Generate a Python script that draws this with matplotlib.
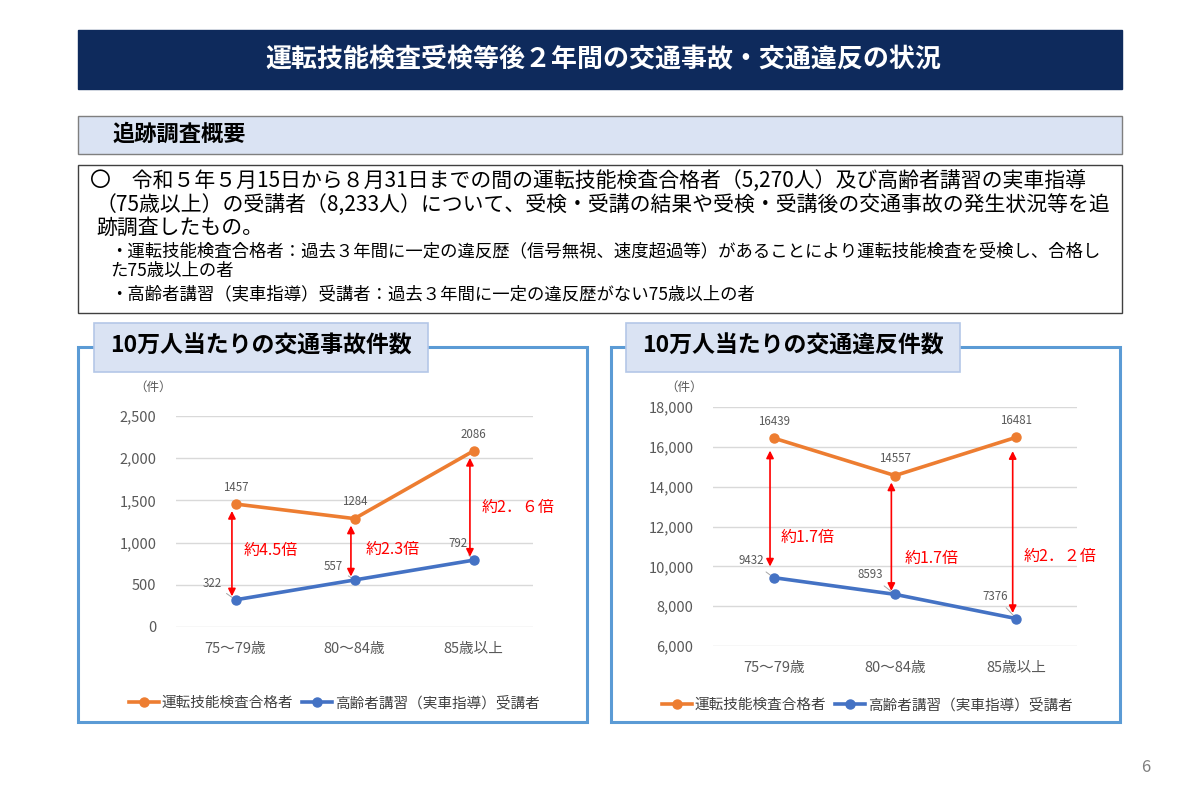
import matplotlib.pyplot as plt
from matplotlib.patches import Rectangle

plt.rcParams['font.family'] = ['Noto Sans CJK JP', 'DejaVu Sans']

# データ
age_groups = ["75～79歳", "80～84歳", "85歳以上"]
series_names = ["運転技能検査合格者", "高齢者講習（実車指導）受講者"]

accident_test = [1457, 1284, 2086]      # 運転技能検査合格者
accident_course = [322, 557, 792]       # 高齢者講習受講者
accident_ratio = ["約4.5倍", "約2.3倍", "約2．６倍"]

violation_test = [16439, 14557, 16481]
violation_course = [9432, 8593, 7376]
violation_ratio = ["約1.7倍", "約1.7倍", "約2．２倍"]

ORANGE = '#ED7D31'
BLUE = '#4472C4'
RED = '#FF0000'
GRAY = '#595959'

W, H = 1200, 800
fig = plt.figure(figsize=(12, 8), dpi=100)

# 背景用（ピクセル座標）
bg = fig.add_axes([0, 0, 1, 1])
bg.set_xlim(0, W)
bg.set_ylim(H, 0)
bg.axis('off')


def box(x0, y0, x1, y1, fc, ec, lw=1.0, z=1):
    bg.add_patch(Rectangle((x0, y0), x1 - x0, y1 - y0, facecolor=fc,
                           edgecolor=ec, linewidth=lw, zorder=z))


# タイトル
box(78, 30, 1122, 89, '#0E2A5C', '#0E2A5C')
bg.text(603, 60, "運転技能検査受検等後２年間の交通事故・交通違反の状況",
        color='white', fontsize=18.7, fontweight='bold', ha='center', va='center')

# 追跡調査概要
box(78, 116, 1122, 154, '#DAE3F3', '#7F7F7F')
bg.text(113, 134, "追跡調査概要", fontsize=16, fontweight='bold', va='center')

# 説明文
box(78, 165, 1122, 313, 'white', '#404040')
main_lines = [
    (90, 181, "〇　令和５年５月15日から８月31日までの間の運転技能検査合格者（5,270人）及び高齢者講習の実車指導"),
    (96, 205, "（75歳以上）の受講者（8,233人）について、受検・受講の結果や受検・受講後の交通事故の発生状況等を追"),
    (96, 228, "跡調査したもの。"),
]
for x, y, t in main_lines:
    bg.text(x, y, t, fontsize=15, va='center')
sub_lines = [
    (110, 251, "・運転技能検査合格者：過去３年間に一定の違反歴（信号無視、速度超過等）があることにより運転技能検査を受検し、合格し"),
    (110, 271, "た75歳以上の者"),
    (110, 294, "・高齢者講習（実車指導）受講者：過去３年間に一定の違反歴がない75歳以上の者"),
]
for x, y, t in sub_lines:
    bg.text(x, y, t, fontsize=12.5, va='center')

# パネル枠
panels = [(78, 587, 94, 428, "10万人当たりの交通事故件数"),
          (611, 1120, 626, 960, "10万人当たりの交通違反件数")]
for x0, x1, tx0, tx1, title in panels:
    box(x0, 347, x1, 722, 'white', '#5B9BD5', lw=2.2)
    box(tx0, 323, tx1, 372, '#DAE3F3', '#B4C7E7', lw=1.2, z=2)
    bg.text((tx0 + tx1) / 2, 346, title, fontsize=16.5, fontweight='bold',
            ha='center', va='center', zorder=3)

bg.text(1146, 768, "6", fontsize=12, color='#7F7F7F', ha='center', va='center')


def make_chart(rect, top, bottom, ylim, step, ratio_labels, ratio_pos,
               top_off, bottom_off, shrinks, unit_xy, legend_xy):
    x0, y0, x1, y1 = rect
    ax = fig.add_axes([x0 / W, 1 - y1 / H, (x1 - x0) / W, (y1 - y0) / H])
    ax.set_facecolor('none')
    xs = list(range(len(age_groups)))
    l1, = ax.plot(xs, top, color=ORANGE, lw=2.6, marker='o', ms=6.5, zorder=4,
                  label=series_names[0])
    l2, = ax.plot(xs, bottom, color=BLUE, lw=2.6, marker='o', ms=6.5, zorder=4,
                  label=series_names[1])
    ax.set_xlim(-0.5, len(age_groups) - 0.5)
    ax.set_ylim(*ylim)
    ax.set_yticks(range(ylim[0], ylim[1] + 1, step))
    ax.yaxis.set_major_formatter(plt.FuncFormatter(lambda v, p: f"{int(v):,}"))
    ax.set_xticks(xs)
    ax.set_xticklabels(age_groups)
    ax.tick_params(length=0, labelsize=10.5, labelcolor=GRAY)
    ax.tick_params(axis='y', pad=14)
    ax.tick_params(axis='x', pad=11)
    ax.grid(axis='y', color='#D9D9D9', lw=1)
    ax.set_axisbelow(True)
    for s in ax.spines.values():
        s.set_visible(False)

    # データラベル
    for i, v in enumerate(top):
        ax.annotate(str(v), (i, v), xytext=top_off[i], textcoords='offset points',
                    ha='center', va='center', fontsize=8.3, color=GRAY)
    for i, v in enumerate(bottom):
        ax.annotate(str(v), (i, v), xytext=bottom_off[i], textcoords='offset points',
                    ha='center', va='center', fontsize=8.3, color=GRAY,
                    arrowprops=dict(arrowstyle='-', color='#A6A6A6', lw=0.7,
                                    shrinkA=2, shrinkB=3))

    # 倍率の矢印
    for i in xs:
        ax.annotate('', xy=(i - 0.03, bottom[i]), xytext=(i - 0.03, top[i]),
                    arrowprops=dict(arrowstyle='<|-|>', color=RED, lw=1.2,
                                    mutation_scale=11,
                                    shrinkA=shrinks[i][0], shrinkB=shrinks[i][1]),
                    zorder=3)
        ax.text(i + ratio_pos[i][0], ratio_pos[i][1], ratio_labels[i],
                color=RED, fontsize=11.5, ha='left', va='center')

    bg.text(unit_xy[0], unit_xy[1], "（件）", fontsize=9, color=GRAY,
            ha='center', va='center')
    fig.legend(handles=[l1, l2], loc='center',
               bbox_to_anchor=(legend_xy[0] / W, 1 - legend_xy[1] / H),
               ncol=2, frameon=False, fontsize=10.5, handlelength=2.1,
               handletextpad=0.15, columnspacing=0.6, labelcolor='#404040')
    return ax


make_chart((176, 416, 533, 627), accident_test, accident_course, (0, 2500), 500,
           accident_ratio, [(0.07, 912), (0.09, 924), (0.07, 1422)],
           [(0, 12), (0, 12), (0, 12)], [(-17, 12), (-15, 10), (-11, 12)],
           [(5, 2.5), (5, 2.5), (5, 2.5)], (153, 387), (334, 703))

make_chart((713, 407, 1077, 646), violation_test, violation_course, (6000, 18000), 2000,
           violation_ratio, [(0.06, 11474), (0.08, 10420), (0.06, 10520)],
           [(0, 12), (0, 12), (0, 12)], [(-16, 12), (-18, 14), (-15, 16)],
           [(9, 8), (5, 2.5), (10, 4)], (684, 387), (867, 705))

fig.savefig("out.png", dpi=100)
